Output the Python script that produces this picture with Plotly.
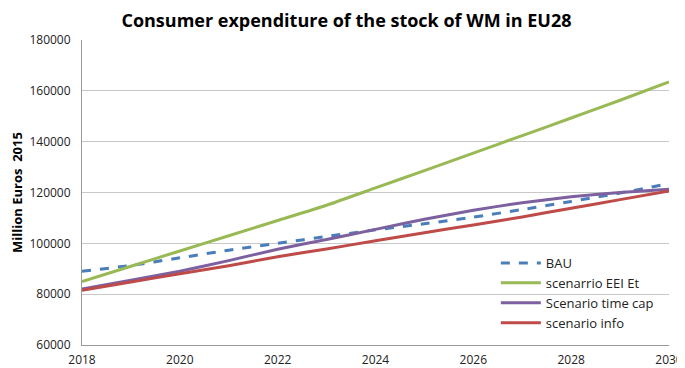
import plotly.graph_objects as go

years = list(range(2018, 2031))
bau = [89000, 91300, 94300, 97300, 100000, 102700, 105300, 107700, 110300, 113300, 116500, 119800, 123500]
eei = [85000, 91000, 97000, 103000, 109000, 115000, 121800, 128600, 135500, 142400, 149300, 156300, 163500]
timecap = [82000, 85500, 89000, 93200, 97700, 101500, 105500, 109500, 113000, 116000, 118300, 120000, 121300]
info = [81500, 84800, 88000, 91200, 94700, 97800, 101000, 104200, 107200, 110400, 113800, 117200, 120600]

names = ["BAU", "scenarrio EEI Et", "Scenario time cap", "scenario info"]
colors = ["#4a7ebb", "#98b954", "#7d60a0", "#be4b48"]
dashes = ["dash", "solid", "solid", "solid"]
series = [bau, eei, timecap, info]

fig = go.Figure()
for n, c, d, s in zip(names, colors, dashes, series):
    fig.add_trace(go.Scatter(x=years, y=s, name=n, mode="lines",
                             line=dict(color=c, width=3, dash=d, shape="spline", smoothing=0.5)))

# page body adds an 8px margin, so the figure is sized/offset to compensate
fig.update_layout(
    width=677, height=360,
    margin=dict(l=74, r=16, t=32, b=23, autoexpand=False),
    paper_bgcolor="white", plot_bgcolor="white",
    font=dict(family="Open Sans, Arial", size=12, color="#222"),
    title=dict(text="<b>Consumer expenditure of the stock of WM in EU28</b>",
               x=0.5, xanchor="center", y=0.966, yanchor="middle",
               font=dict(size=18, color="black", family="Open Sans, Arial")),
    legend=dict(x=0.705, y=0.318, xanchor="left", yanchor="top",
                bgcolor="rgba(0,0,0,0)", font=dict(size=13, color="#222"),
                tracegroupgap=0, itemwidth=40),
    showlegend=True,
)
fig.update_xaxes(range=[2018, 2030], tickmode="linear", tick0=2018, dtick=2,
                 showgrid=False, showline=True, linecolor="#999", linewidth=1,
                 ticks="", zeroline=False, tickfont=dict(size=12), automargin=False,
                 ticklabelstandoff=4)
fig.update_yaxes(range=[60000, 180000], tickmode="linear", tick0=60000, dtick=20000,
                 showgrid=True, gridcolor="#c8c8c8", gridwidth=1,
                 showline=True, linecolor="#999", linewidth=1, zeroline=False,
                 tickformat="d", ticks="", tickfont=dict(size=12), automargin=False,
                 ticklabelstandoff=8,
                 title=dict(text="<b>Million Euros  2015</b>", font=dict(size=13, color="black"), standoff=12))

fig.write_html("out.html")
